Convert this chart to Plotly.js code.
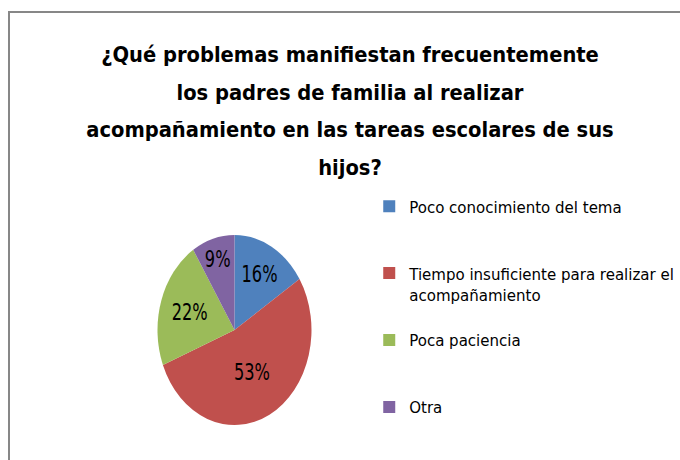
<!DOCTYPE html>
<html>
<head>
<meta charset="utf-8">
<script src="https://cdn.plot.ly/plotly-3.0.1.min.js"></script>
<style>html,body{margin:0;padding:0;background:#fff;}</style>
</head>
<body>
<div id="chart" style="width:680px;height:460px;"></div>
<script>
const titleLines = [
  '¿Qué problemas manifiestan frecuentemente',
  'los padres de familia al realizar',
  'acompañamiento en las tareas escolares de sus',
  'hijos?'
];
const labels = [
  'Poco conocimiento del tema',
  'Tiempo insuficiente para realizar el<br>acompañamiento',
  'Poca paciencia',
  'Otra'
];
const values = [16, 53, 22, 9];
const colors = ['#4F81BD', '#C0504D', '#9BBB59', '#8064A2'];

const FONT = '"DejaVu Sans Condensed", Lato, "Liberation Sans", Arial, sans-serif';
const W = 680, H = 460;

// legend entries padded to 3 lines so spacing matches the original
const legendNames = labels.map((l, i) => {
  const parts = l.split('<br>').map(p => '<span style="font-size:16.7px">' + p + '</span>');
  if (i < labels.length - 1) while (parts.length < 3) parts.push('\u00a0');
  return parts.join('<br>');
});

const domX = [0.2316, 0.4581];
const domY = [0.1152, 0.45];

const trace = {
  type: 'pie',
  labels: legendNames,
  values: values,
  sort: false,
  direction: 'clockwise',
  rotation: 0,
  marker: {colors: colors, line: {width: 0}},
  textinfo: 'percent',
  textposition: 'inside',
  insidetextorientation: 'horizontal',
  textfont: {family: FONT, size: 18, color: '#000'},
  hoverinfo: 'label+percent',
  domain: {x: domX, y: domY}
};

const layout = {
  width: W, height: H,
  margin: {l: 0, r: 0, t: 0, b: 0, autoexpand: false},
  paper_bgcolor: '#fff',
  title: {
    text: titleLines.map(t => '<span style="font-size:21.7px">' + t + '</span>').join('<br>'),
    font: {family: FONT, size: 29, color: '#000', weight: 'bold'},
    x: 350 / W, xanchor: 'center',
    y: 1 - 62 / H, yanchor: 'top', yref: 'container',
    automargin: false
  },
  showlegend: true,
  legend: {
    x: 0.5430, xanchor: 'left',
    y: 1 - 189 / H, yanchor: 'top',
    valign: 'top',
    font: {family: FONT, size: 16.4, color: '#000'},
    bgcolor: 'rgba(0,0,0,0)',
    traceorder: 'normal'
  },
  shapes: [{
    type: 'rect', xref: 'paper', yref: 'paper',
    x0: 9 / W, x1: 1.05, y0: -0.05, y1: 1 - 12 / H,
    line: {color: '#878787', width: 2}, fillcolor: 'rgba(0,0,0,0)', layer: 'below'
  }]
};

const gd = document.getElementById('chart');
Plotly.newPlot(gd, [trace], layout, {displayModeBar: false, staticPlot: true}).then(() => {
  const layer = gd.querySelector('.pielayer');
  const cy = H - H * (domY[0] + domY[1]) / 2;
  const k = 95 / 77;
  if (layer) layer.setAttribute('transform', 'translate(0,' + cy + ') scale(1,' + k + ') translate(0,' + (-cy) + ')');
});
</script>
</body>
</html>
